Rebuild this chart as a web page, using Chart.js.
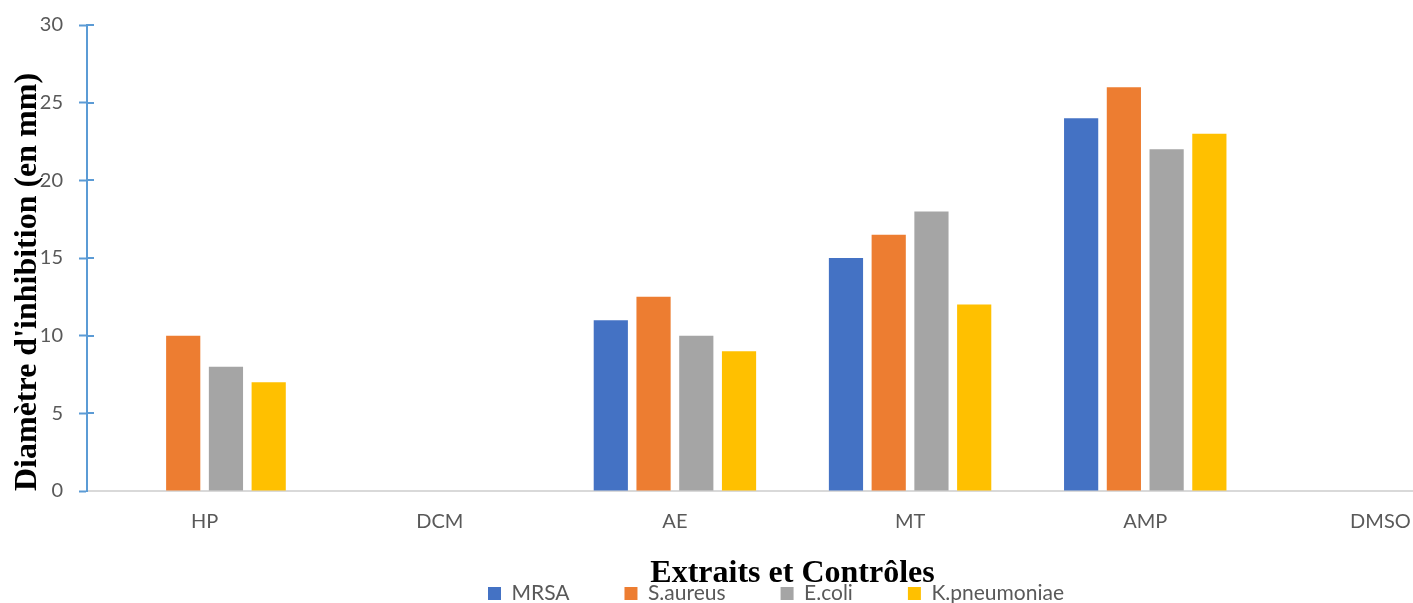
<!DOCTYPE html>
<html>
<head>
<meta charset="utf-8">
<title>Diamètre d'inhibition</title>
<script src="https://cdn.jsdelivr.net/npm/chart.js@4.4.1/dist/chart.umd.min.js"></script>
<style>
  html, body { margin: 0; padding: 0; background: #ffffff; overflow: hidden; }
  #wrap { width: 1550px; height: 603px; }
  canvas { display: block; }
</style>
</head>
<body>
<div id="wrap"><canvas id="chart" width="1550" height="603"></canvas></div>
<script>
// Extracts / controls tested
const categories = ['HP', 'DCM', 'AE', 'MT', 'AMP', 'DMSO'];

// Inhibition zone diameters (mm) per strain
const seriesNames = ['MRSA', 'S.aureus', 'E.coli', 'K.pneumoniae'];
const mrsa        = [0, 0, 11, 15, 24, 0];
const sAureus     = [10, 0, 12.5, 16.5, 26, 0];
const eColi       = [8, 0, 10, 18, 22, 0];
const kPneumoniae = [7, 0, 9, 12, 23, 0];

// Value axis
const yMin = 0;
const yMax = 30;
const yStep = 5;

const seriesColors = ['#4472C4', '#ED7D31', '#A5A5A5', '#FFC000'];
const seriesValues = [mrsa, sAureus, eColi, kPneumoniae];

const axisBlue = '#5B9BD5';
const labelGrey = '#595959';
const serifBold = '"Liberation Serif", "Times New Roman", serif';

Chart.defaults.font.family = 'Lato, "Open Sans", sans-serif';

// Short tick marks on the inner side of the value axis (crossing the axis line)
const innerTicks = {
  id: 'innerTicks',
  afterDatasetsDraw(chart, args, opts) {
    const y = chart.scales.y;
    const ctx = chart.ctx;
    ctx.save();
    ctx.strokeStyle = opts.color;
    ctx.lineWidth = opts.width;
    y.ticks.forEach(t => {
      if (t.value === y.min) return;
      const py = Math.round(y.getPixelForValue(t.value));
      ctx.beginPath();
      ctx.moveTo(y.right, py);
      ctx.lineTo(y.right + opts.length, py);
      ctx.stroke();
    });
    ctx.restore();
  }
};

// Places the legend row under the axis title
const legendPlacement = {
  id: 'legendPlacement',
  afterLayout(chart, args, opts) {
    const lg = chart.legend;
    if (!lg) return;
    lg.top = opts.top;
    lg.bottom = chart.height;
    lg.height = lg.bottom - lg.top;
    lg.left += opts.shiftX;
    lg.right += opts.shiftX;
  }
};

new Chart(document.getElementById('chart'), {
  type: 'bar',
  data: {
    labels: categories,
    datasets: seriesNames.map((name, i) => ({
      label: name,
      data: seriesValues[i],
      backgroundColor: seriesColors[i],
      borderWidth: 0,
      categoryPercentage: 0.727,
      barPercentage: 0.8
    }))
  },
  options: {
    responsive: false,
    animation: false,
    layout: { padding: { top: 25, left: 0, right: 52, bottom: 0 } },
    scales: {
      x: {
        afterFit(scale) { scale.height = 102; },
        grid: { display: false, drawTicks: false },
        border: { display: true, color: '#D9D9D9', width: 2 },
        ticks: { color: labelGrey, font: { size: 20 }, padding: 19 },
        title: {
          display: true,
          text: 'Extraits et Contrôles',
          color: '#000000',
          font: { family: serifBold, size: 32, weight: 'bold', lineHeight: 1 },
          padding: { top: 20, bottom: 3 }
        }
      },
      y: {
        min: yMin,
        max: yMax,
        afterFit(scale) { scale.width = 87; },
        ticks: { stepSize: yStep, color: labelGrey, font: { size: 20, lineHeight: 0.9 }, padding: 16 },
        grid: { display: true, drawOnChartArea: false, drawTicks: true, tickLength: 8, tickWidth: 2, color: axisBlue },
        border: { display: true, color: axisBlue, width: 2 },
        title: {
          display: true,
          align: 'start',
          text: "Diamètre d'inhibition (en mm)",
          color: '#000000',
          font: { family: serifBold, size: 32, weight: 'bold', lineHeight: 1 },
          padding: { top: 12, bottom: 0 }
        }
      }
    },
    plugins: {
      tooltip: { enabled: false },
      legend: {
        position: 'bottom',
        maxHeight: 10,
        labels: {
          boxWidth: 13,
          boxHeight: 13,
          padding: 55,
          color: labelGrey,
          font: { size: 21 }
        }
      },
      legendPlacement: { top: 528, shiftX: 27 },
      innerTicks: { color: axisBlue, width: 2, length: 7 }
    }
  },
  plugins: [innerTicks, legendPlacement]
});
</script>
</body>
</html>
